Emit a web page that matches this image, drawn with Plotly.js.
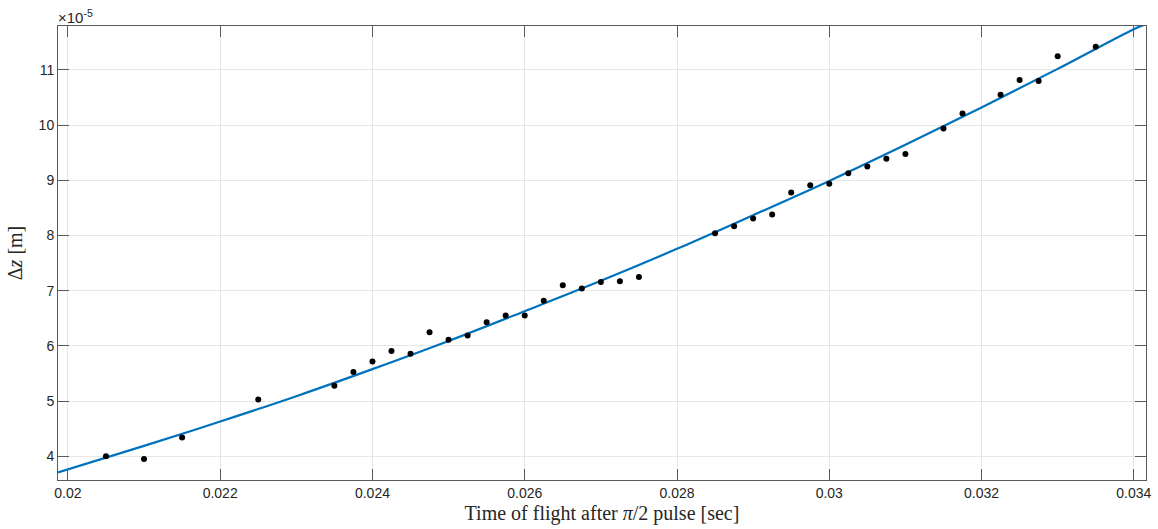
<!DOCTYPE html>
<html>
<head>
<meta charset="utf-8">
<script src="https://cdn.plot.ly/plotly-3.0.1.min.js"></script>
<style>html,body{margin:0;padding:0;background:#fff;}#chart{width:1158px;height:529px;}</style>
</head>
<body>
<div id="chart"></div>
<script>
// Measured points (time of flight [s], Δz in units of 1e-5 m)
const tData = [0.0205, 0.021, 0.0215, 0.0225, 0.0235, 0.02375, 0.024, 0.02425, 0.0245, 0.02475,
  0.025, 0.02525, 0.0255, 0.02575, 0.026, 0.02625, 0.0265, 0.02675, 0.027, 0.02725, 0.0275,
  0.0285, 0.02875, 0.029, 0.02925, 0.0295, 0.02975, 0.03, 0.03025, 0.0305, 0.03075, 0.031,
  0.0315, 0.03175, 0.03225, 0.0325, 0.03275, 0.033, 0.0335];
const dzData = [4.00, 3.95, 4.34, 5.03, 5.28, 5.53, 5.72, 5.91, 5.86, 6.25,
  6.11, 6.19, 6.43, 6.55, 6.55, 6.82, 7.10, 7.04, 7.16, 7.17, 7.25,
  8.04, 8.17, 8.31, 8.38, 8.78, 8.91, 8.94, 9.13, 9.25, 9.39, 9.48,
  9.94, 10.21, 10.55, 10.82, 10.80, 11.25, 11.42];

// Fitted curve
const tFit = [0.01987, 0.021, 0.022, 0.023, 0.024, 0.025, 0.026, 0.027, 0.028,
  0.029, 0.030, 0.031, 0.032, 0.033, 0.034, 0.03416];
const dzFit = [3.71, 4.19, 4.63, 5.09, 5.58, 6.09, 6.63, 7.18, 7.76,
  8.37, 8.99, 9.645, 10.32, 11.02, 11.74, 11.83];

const xTickVals = [0.02, 0.022, 0.024, 0.026, 0.028, 0.03, 0.032, 0.034];
const xTickText = ['0.02', '0.022', '0.024', '0.026', '0.028', '0.03', '0.032', '0.034'];
const yTickVals = [4, 5, 6, 7, 8, 9, 10, 11];
const yTickText = ['4', '5', '6', '7', '8', '9', '10', '11'];

const axisColor = '#5a5a5a';
const tickFont = {family: 'Liberation Sans, Arial, sans-serif', size: 14, color: '#262626'};
const titleFont = {family: 'Liberation Serif, Times New Roman, serif', size: 20, color: '#262626'};

const traces = [
  {x: tFit, y: dzFit, type: 'scatter', mode: 'lines', line: {color: '#0072BD', width: 2.2, shape: 'spline'}, hoverinfo: 'skip'},
  {x: tData, y: dzData, type: 'scatter', mode: 'markers', marker: {color: '#000000', size: 6}}
];

const layout = {
  width: 1158, height: 529,
  margin: {l: 58, r: 12, t: 26, b: 49},
  paper_bgcolor: '#ffffff', plot_bgcolor: '#ffffff',
  showlegend: false,
  xaxis: {
    range: [0.01987, 0.03416],
    tickvals: xTickVals, ticktext: xTickText,
    ticks: 'inside', ticklen: 11, tickcolor: axisColor, tickwidth: 1,
    showline: true, linecolor: axisColor, linewidth: 1, mirror: 'ticks',
    showgrid: true, gridcolor: '#e6e6e6', gridwidth: 1,
    zeroline: false,
    tickfont: tickFont,
    title: {text: 'Time of flight after <i>π</i>/2 pulse [sec]', font: titleFont, standoff: 6}
  },
  yaxis: {
    range: [3.571, 11.797],
    tickvals: yTickVals, ticktext: yTickText,
    ticks: 'inside', ticklen: 11, tickcolor: axisColor, tickwidth: 1,
    showline: true, linecolor: axisColor, linewidth: 1, mirror: 'ticks',
    showgrid: true, gridcolor: '#e6e6e6', gridwidth: 1,
    zeroline: false,
    tickfont: tickFont,
    title: {text: 'Δ<i>z</i> [m]', font: titleFont, standoff: 10}
  },
  annotations: [{
    xref: 'paper', yref: 'paper', x: 0, y: 1, xanchor: 'left', yanchor: 'bottom',
    text: '×10<sup>-5</sup>', showarrow: false,
    font: {family: 'Liberation Sans, Arial, sans-serif', size: 15, color: '#262626'},
    xshift: -2, yshift: -2
  }]
};

Plotly.newPlot('chart', traces, layout, {displayModeBar: false, staticPlot: true});
</script>
</body>
</html>
